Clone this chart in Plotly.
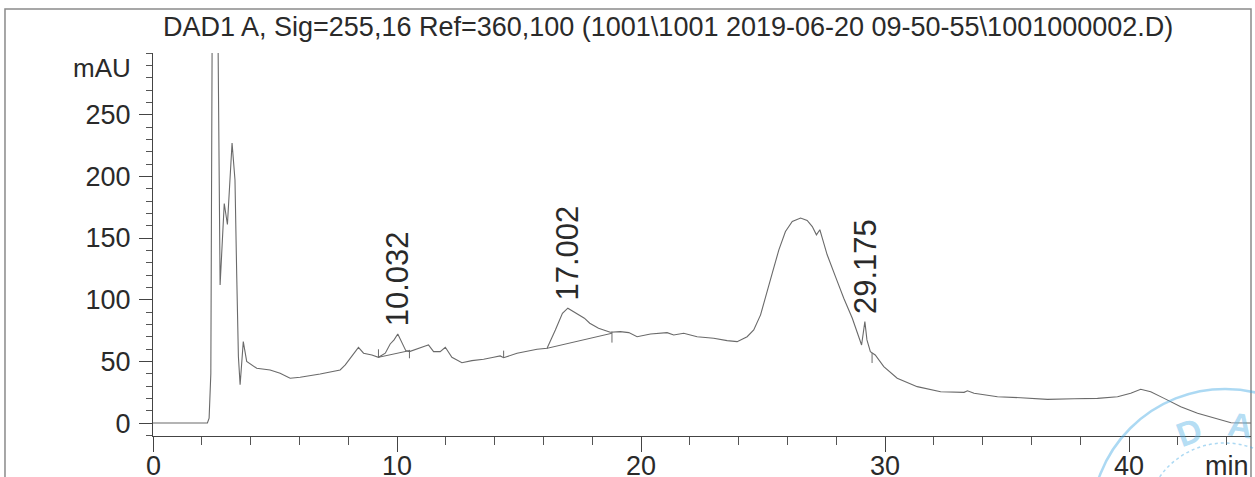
import plotly.graph_objects as go
import numpy as np

# DAD1 A signal, 255 nm (ref 360 nm)
time_min = [
    0, 2.23, 2.30, 2.37, 2.50, 2.75, 2.92, 3.05, 3.24, 3.36, 3.43, 3.50, 3.57, 3.70,
    3.84, 4.25, 4.80, 5.21, 5.62, 6.03, 6.85, 7.67, 7.88, 8.22, 8.42, 8.63, 8.97,
    9.24, 9.52, 9.72, 9.88, 10.032, 10.20, 10.36, 10.51, 10.75, 11.16, 11.29, 11.50,
    11.77, 11.98, 12.25, 12.66, 13.07, 13.55, 13.96, 14.23, 14.37, 14.92, 15.74,
    16.15, 16.49, 16.78, 17.002, 17.33, 17.68, 17.90, 18.26, 18.74, 19.15, 19.50,
    19.84, 20.39, 21.07, 21.34, 21.75, 22.30, 22.98, 23.53, 23.94, 24.35, 24.62,
    24.90, 25.17, 25.38, 25.65, 25.92, 26.20, 26.54, 26.81, 27.02, 27.19, 27.33,
    27.43, 27.63, 27.97, 28.31, 28.66, 28.95, 29.04, 29.175, 29.26, 29.40, 29.60,
    29.95, 30.50, 31.32, 32.28, 33.24, 33.38, 33.65, 34.61, 35.56, 36.66, 37.75,
    38.71, 39.53, 40.07, 40.48, 40.89, 41.44, 42.12, 42.81, 43.49, 44.18, 44.86, 45.0,
]
signal_mau = [
    0, 0, 4, 40, 700, 112, 178, 161, 227, 197, 121, 54, 31, 66,
    50, 44.4, 43, 40.3, 36.3, 37.1, 39.8, 43.0, 47.1, 56.6, 61.4, 56.6, 55.2,
    53.3, 56.6, 64.1, 67.4, 72.2, 64.7, 58.7, 57.9, 59.8, 62.5, 63.3, 57.9,
    57.9, 61.4, 53.3, 48.9, 50.6, 51.7, 53.3, 54.4, 53.0, 56.6, 59.8,
    60.6, 75.5, 89, 93.1, 89.5, 85, 80.9, 76.9, 73.6, 74.1, 73.3,
    70, 72.2, 73.3, 71.4, 72.8, 70, 68.8, 66.8, 66, 70, 75.5,
    87.7, 108, 121.5, 140.4, 155.3, 163.4, 166.2, 164.2, 159.3, 152.6, 156.7,
    149.9, 136.4, 118.7, 101.2, 85, 67.4, 63.3, 82.2, 67.4, 57.9, 55.2,
    45.7, 36.3, 29.5, 25.4, 24.9, 26.2, 24.1, 21.3, 20.5, 19.2, 19.7,
    20, 21.3, 24.1, 27.4, 25.4, 20, 13.2, 7.9, 3.8, 0.2, 0, 0,
]

# Integrated peaks (retention time labels)
peak_rt = [10.032, 17.002, 29.175]
peak_labels = ["10.032", "17.002", "29.175"]

# Integration baselines: start/end points
base_t0 = [9.24, 16.15]
base_v0 = [53.3, 60.6]
base_t1 = [10.51, 18.81]
base_v1 = [58.7, 72.8]

# Integration event ticks: time, low, high
event_t = [9.24, 10.51, 14.37, 18.81, 29.47]
event_lo = [53.3, 52.5, 52.8, 65.2, 48.7]
event_hi = [59.8, 59.3, 58.7, 74.1, 56.8]

x_major = [0, 10, 20, 30, 40]
x_major_text = ["0", "10", "20", "30", "40"]
y_major = [0, 50, 100, 150, 200, 250]

FONT = "Liberation Sans, Arial, sans-serif"
INK = "#2a2a2a"
TRACE = "#6a6a6a"

fig = go.Figure()
fig.add_trace(go.Scatter(x=time_min, y=signal_mau, mode="lines",
                         line=dict(color=TRACE, width=1.1), hoverinfo="skip"))

bx, by = [], []
for a, b, c, d in zip(base_t0, base_v0, base_t1, base_v1):
    bx += [a, c, None]
    by += [b, d, None]
fig.add_trace(go.Scatter(x=bx, y=by, mode="lines",
                         line=dict(color=TRACE, width=1), hoverinfo="skip"))

ex, ey = [], []
for t, lo, hi in zip(event_t, event_lo, event_hi):
    ex += [t, t, None]
    ey += [lo, hi, None]
fig.add_trace(go.Scatter(x=ex, y=ey, mode="lines",
                         line=dict(color=TRACE, width=1), hoverinfo="skip"))

apex = np.interp(peak_rt, time_min, signal_mau)
for rt, lab, h in zip(peak_rt, peak_labels, apex):
    fig.add_annotation(x=rt, y=h, text=lab, textangle=-90, showarrow=False,
                       xanchor="center", yanchor="bottom", yshift=6,
                       font=dict(family=FONT, size=31, color=INK))

# time axis labels, set close under the long ticks
for xv, xt in zip(x_major, x_major_text):
    fig.add_annotation(x=xv, xref="x", yref="paper", y=-0.034, text=xt,
                       xanchor="center", yanchor="top", showarrow=False,
                       font=dict(family=FONT, size=27, color=INK))

# title and axis unit labels
fig.add_annotation(xref="paper", yref="paper", x=0.0075, y=1.068,
                   xanchor="left", yanchor="middle", showarrow=False,
                   text="DAD1 A, Sig=255,16 Ref=360,100 (1001\\1001 2019-06-20 09-50-55\\1001000002.D)",
                   font=dict(family=FONT, size=27, color=INK))
fig.add_annotation(xref="paper", yref="paper", x=-0.0464, y=0.961,
                   xanchor="center", yanchor="middle", showarrow=False,
                   text="mAU", font=dict(family=FONT, size=26, color=INK))
fig.add_annotation(xref="paper", yref="paper", x=1.0, y=-0.034,
                   xanchor="right", yanchor="top", showarrow=False,
                   text="min", font=dict(family=FONT, size=27, color=INK))

# report frame
fig.add_shape(type="rect", xref="paper", yref="paper",
              x0=-0.1348, x1=1.0, y0=-0.3, y1=1.1149,
              line=dict(color="#8a8a8a", width=1.5), layer="below")

# approval stamp
STAMP = "rgba(70,170,228,0.45)"
fig.add_shape(type="circle", xref="paper", yref="paper",
              x0=0.8543, x1=1.0984, y0=-0.577, y1=0.1227,
              line=dict(color=STAMP, width=2.5))
fig.add_shape(type="circle", xref="paper", yref="paper",
              x0=0.9035, x1=1.0492, y0=-0.436, y1=-0.0183,
              line=dict(color=STAMP, width=1.5, dash="dot"))
fig.add_annotation(xref="paper", yref="paper", x=0.944, y=0.0104, text="<b>D</b>",
                   xanchor="center", yanchor="middle",
                   textangle=-20, showarrow=False,
                   font=dict(family=FONT, size=34, color="rgba(90,180,232,0.45)"))
fig.add_annotation(xref="paper", yref="paper", x=0.99, y=0.0287, text="<b>A</b>",
                   xanchor="center", yanchor="middle",
                   textangle=8, showarrow=False,
                   font=dict(family=FONT, size=34, color="rgba(90,180,232,0.45)"))

fig.update_layout(
    width=1255, height=477,
    margin=dict(l=153, r=4, t=53, b=41),
    paper_bgcolor="white", plot_bgcolor="white",
    showlegend=False,
    font=dict(family=FONT, size=27, color=INK),
)
fig.update_xaxes(range=[0, 45], showgrid=False, zeroline=False, automargin=False,
                 showline=True, linecolor="#444", linewidth=1.2,
                 tickvals=x_major, ticks="outside", ticklen=15, tickwidth=1.2,
                 tickcolor="#444", showticklabels=False,
                 minor=dict(dtick=2, tick0=0, ticks="outside", ticklen=8,
                            tickwidth=1, tickcolor="#555"))
fig.update_yaxes(range=[-10.5, 300], showgrid=False, zeroline=False, automargin=False,
                 showline=True, linecolor="#444", linewidth=1.2,
                 tickvals=y_major, ticks="outside", ticklen=13, tickwidth=1.2,
                 tickcolor="#444", ticklabelstandoff=3,
                 tickfont=dict(family=FONT, size=27, color=INK),
                 minor=dict(dtick=10, tick0=0, ticks="outside", ticklen=6,
                            tickwidth=1, tickcolor="#555"))

fig.write_html("out.html")
